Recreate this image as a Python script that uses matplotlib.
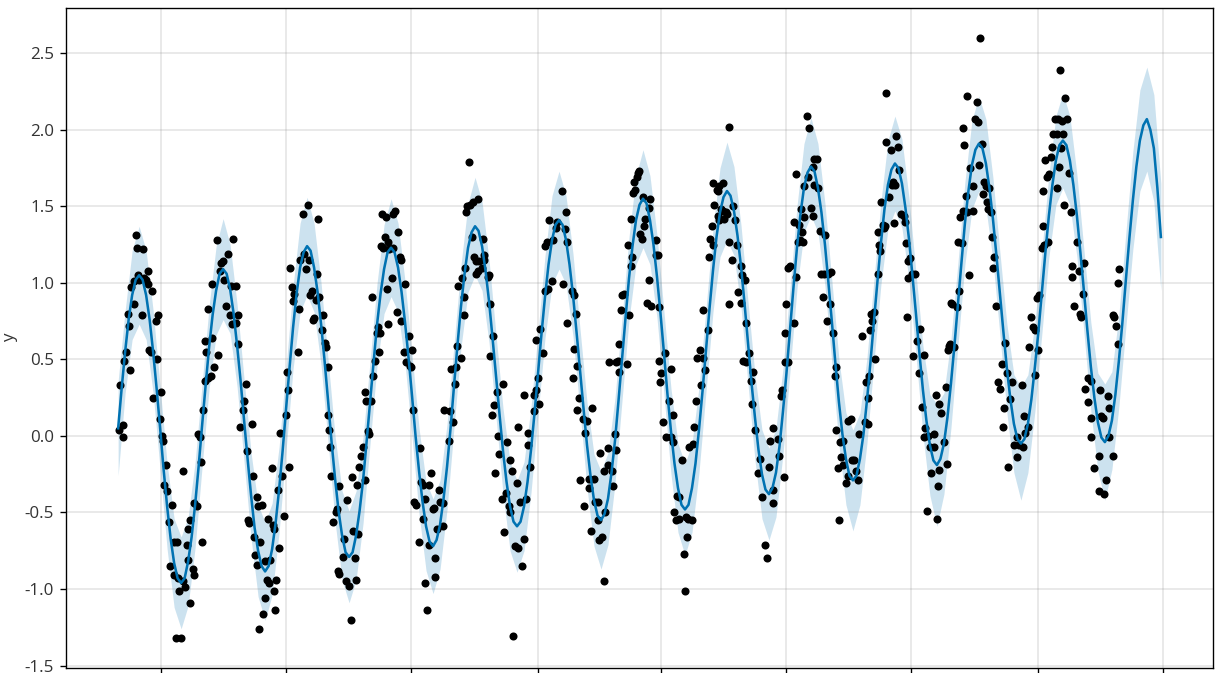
import numpy as np
import matplotlib
matplotlib.use("Agg")
import matplotlib.pyplot as plt

plt.rcParams["font.family"] = ["Open Sans", "DejaVu Sans"]
plt.rcParams["axes.unicode_minus"] = False

# forecast (yhat), one value every 3.5 days starting at day 0
yhat = [
    0.05, 0.31, 0.55, 0.76, 0.92, 1.02, 1.05,
    1.02, 0.92, 0.76, 0.55, 0.31, 0.05, -0.22, -0.46, -0.67, -0.83, -0.93, -0.96,
    -0.93, -0.82, -0.66, -0.45, -0.20, 0.07, 0.33, 0.58, 0.79, 0.95, 1.06, 1.09,
    1.06, 0.96, 0.80, 0.59, 0.36, 0.10, -0.15, -0.39, -0.60, -0.75, -0.85, -0.885,
    -0.85, -0.74, -0.57, -0.35, -0.10, 0.18, 0.45, 0.71, 0.93, 1.10, 1.20, 1.24,
    1.21, 1.10, 0.94, 0.73, 0.49, 0.23, -0.04, -0.28, -0.49, -0.65, -0.76, -0.79,
    -0.76, -0.65, -0.49, -0.29, -0.04, 0.22, 0.48, 0.73, 0.93, 1.09, 1.20, 1.23,
    1.20, 1.10, 0.94, 0.74, 0.51, 0.26, 0.00, -0.23, -0.43, -0.59, -0.69, -0.72,
    -0.68, -0.58, -0.41, -0.20, 0.05, 0.33, 0.60, 0.85, 1.06, 1.23, 1.33, 1.37,
    1.34, 1.24, 1.08, 0.88, 0.64, 0.39, 0.14, -0.10, -0.30, -0.46, -0.56, -0.59,
    -0.56, -0.46, -0.30, -0.09, 0.15, 0.41, 0.67, 0.91, 1.12, 1.28, 1.38, 1.41,
    1.38, 1.28, 1.12, 0.92, 0.68, 0.43, 0.18, -0.06, -0.26, -0.42, -0.52, -0.55,
    -0.51, -0.41, -0.24, -0.03, 0.23, 0.50, 0.77, 1.03, 1.24, 1.41, 1.51, 1.55,
    1.52, 1.41, 1.25, 1.04, 0.80, 0.54, 0.27, 0.03, -0.18, -0.34, -0.45, -0.48,
    -0.45, -0.34, -0.18, 0.04, 0.29, 0.56, 0.83, 1.08, 1.30, 1.46, 1.56, 1.60,
    1.57, 1.47, 1.31, 1.11, 0.87, 0.61, 0.35, 0.12, -0.09, -0.25, -0.35, -0.38,
    -0.34, -0.24, -0.07, 0.16, 0.41, 0.69, 0.97, 1.23, 1.45, 1.62, 1.72, 1.76,
    1.73, 1.62, 1.46, 1.25, 1.00, 0.74, 0.47, 0.22, 0.01, -0.15, -0.26, -0.29,
    -0.26, -0.15, 0.01, 0.23, 0.48, 0.75, 1.01, 1.26, 1.48, 1.64, 1.74, 1.78,
    1.75, 1.65, 1.49, 1.29, 1.05, 0.80, 0.54, 0.30, 0.10, -0.06, -0.16, -0.19,
    -0.15, -0.05, 0.12, 0.34, 0.59, 0.86, 1.13, 1.39, 1.60, 1.77, 1.87, 1.91,
    1.88, 1.78, 1.62, 1.42, 1.18, 0.93, 0.68, 0.44, 0.24, 0.08, -0.02, -0.05,
    -0.02, 0.08, 0.24, 0.45, 0.68, 0.94, 1.20, 1.44, 1.64, 1.80, 1.90, 1.93,
    1.90, 1.80, 1.64, 1.44, 1.20, 0.95, 0.69, 0.45, 0.25, 0.09, -0.01, -0.04,
    0.00, 0.10, 0.27, 0.49, 0.74, 1.02, 1.29, 1.54, 1.76, 1.93, 2.03, 2.07,
    2.00, 1.88, 1.62, 1.30,
]

# uncertainty interval: centre and half width, one value every 7 days
band_mid = [
    0.05, 0.55, 0.92, 1.05, 0.92, 0.55, 0.05, -0.46, -0.83, -0.96, -0.82, -0.45,
    0.07, 0.58, 0.95, 1.09, 0.96, 0.59, 0.10, -0.39, -0.75, -0.885, -0.74, -0.35,
    0.18, 0.71, 1.10, 1.24, 1.10, 0.73, 0.23, -0.28, -0.65, -0.79, -0.65, -0.29,
    0.22, 0.73, 1.09, 1.23, 1.10, 0.74, 0.26, -0.23, -0.59, -0.72, -0.58, -0.20,
    0.33, 0.85, 1.23, 1.37, 1.24, 0.88, 0.39, -0.10, -0.46, -0.59, -0.46, -0.09,
    0.41, 0.91, 1.28, 1.41, 1.28, 0.92, 0.43, -0.06, -0.42, -0.55, -0.41, -0.03,
    0.50, 1.03, 1.41, 1.55, 1.41, 1.04, 0.54, 0.03, -0.34, -0.48, -0.34, 0.04,
    0.56, 1.08, 1.46, 1.60, 1.47, 1.11, 0.61, 0.12, -0.25, -0.38, -0.24, 0.16,
    0.69, 1.23, 1.62, 1.76, 1.62, 1.25, 0.74, 0.22, -0.15, -0.29, -0.15, 0.23,
    0.75, 1.26, 1.64, 1.78, 1.65, 1.29, 0.80, 0.30, -0.06, -0.19, -0.05, 0.34,
    0.86, 1.39, 1.77, 1.91, 1.78, 1.42, 0.93, 0.44, 0.08, -0.05, 0.08, 0.45,
    0.94, 1.44, 1.80, 1.93, 1.80, 1.44, 0.95, 0.45, 0.09, -0.04, 0.10, 0.49,
    1.02, 1.54, 1.93, 2.07, 1.88, 1.30,
]
band_halfwidth = [
    0.31, 0.27, 0.29, 0.32, 0.29, 0.27, 0.27, 0.28, 0.29, 0.30, 0.29, 0.28,
    0.27, 0.27, 0.29, 0.33, 0.29, 0.27, 0.27, 0.28, 0.30, 0.32, 0.30, 0.28,
    0.27, 0.27, 0.29, 0.32, 0.29, 0.27, 0.27, 0.28, 0.29, 0.30, 0.29, 0.28,
    0.27, 0.27, 0.29, 0.32, 0.29, 0.27, 0.27, 0.28, 0.29, 0.31, 0.29, 0.28,
    0.27, 0.27, 0.29, 0.32, 0.29, 0.27, 0.27, 0.28, 0.29, 0.30, 0.29, 0.28,
    0.27, 0.27, 0.29, 0.32, 0.29, 0.27, 0.27, 0.28, 0.30, 0.32, 0.30, 0.28,
    0.27, 0.27, 0.29, 0.32, 0.29, 0.27, 0.27, 0.28, 0.29, 0.30, 0.29, 0.28,
    0.27, 0.27, 0.29, 0.32, 0.29, 0.27, 0.27, 0.28, 0.29, 0.30, 0.29, 0.28,
    0.27, 0.27, 0.29, 0.32, 0.29, 0.27, 0.27, 0.28, 0.30, 0.33, 0.30, 0.28,
    0.27, 0.27, 0.29, 0.31, 0.29, 0.27, 0.27, 0.29, 0.33, 0.40, 0.33, 0.29,
    0.27, 0.27, 0.29, 0.31, 0.29, 0.27, 0.27, 0.29, 0.32, 0.37, 0.32, 0.29,
    0.27, 0.27, 0.29, 0.31, 0.29, 0.27, 0.27, 0.29, 0.32, 0.38, 0.32, 0.30,
    0.31, 0.32, 0.33, 0.34, 0.35, 0.35,
]

# observed points (day, y)
obs = [
    (1, 0.04), (5, 0.07), (5, -0.01), (2, 0.33), (6, 0.49), (8, 0.55), (12, 0.43), (11, 0.72),
    (10, 0.80), (16, 0.86), (13, 0.97), (16, 1.01), (18, 1.31), (19, 1.23), (25, 1.22), (20, 1.05),
    (21, 1.02), (26, 1.03), (30, 1.08), (28, 1.02), (30, 0.99), (34, 0.95), (24, 0.79), (38, 0.75),
    (40, 0.79), (31, 0.56), (33, 0.55), (39, 0.50), (35, 0.25), (43, 0.29), (42, 0.11), (44, 0.00),
    (45, -0.03), (48, -0.19), (46, -0.32), (49, -0.36), (54, -0.45), (51, -0.56), (56, -0.69),
    (59, -0.69), (52, -0.85), (56, -0.91), (60, -0.93), (61, -1.01), (67, -0.99), (65, -0.95),
    (70, -0.81), (72, -1.09), (69, -0.71), (70, -0.61), (72, -0.55), (75, -0.87), (76, -0.91),
    (65, -0.23), (84, -0.69), (58, -1.32), (63, -1.32), (76, -0.44), (79, -0.46), (80, 0.01),
    (82, -0.01), (83, -0.17), (85, 0.17), (87, 0.36), (90, 0.38), (93, 0.39), (88, 0.55), (87, 0.62),
    (94, 0.64), (96, 0.45), (100, 0.53), (90, 0.83), (94, 0.99), (99, 1.28), (103, 1.13), (105, 1.14),
    (102, 1.08), (106, 1.02), (110, 1.19), (115, 1.29), (108, 0.85), (112, 0.79), (114, 0.73),
    (118, 0.74), (120, 0.79), (113, 0.98), (118, 0.98), (120, 0.60), (128, 0.34), (126, 0.23),
    (125, 0.17), (122, 0.06), (134, 0.08), (129, -0.10), (135, -0.26), (139, -0.40), (144, -0.45),
    (140, -0.46), (130, -0.55), (131, -0.57), (150, -0.54), (136, -0.66), (142, -0.69), (137, -0.78),
    (139, -0.84), (147, -0.82), (152, -0.81), (149, -0.94), (151, -0.96), (158, -0.94), (156, -1.01),
    (155, -0.58), (156, -0.61), (147, -1.06), (145, -1.16), (157, -1.14), (141, -1.26), (154, -0.21),
    (160, -0.35), (161, -0.73), (162, 0.02),
    (166, -0.52), (164, -0.26), (171, -0.20), (168, 0.14), (170, 0.30), (169, 0.42), (172, 1.10),
    (174, 0.97), (176, 0.93), (175, 0.88), (181, 0.83), (180, 0.55), (182, 1.15), (185, 1.45),
    (190, 1.51), (200, 1.42), (188, 1.09), (191, 1.15), (186, 1.19), (194, 0.95), (192, 0.92),
    (195, 0.76), (196, 0.77), (201, 0.91), (198, 0.89), (199, 1.06), (205, 0.79), (204, 0.69),
    (207, 0.61), (208, 0.58), (210, 0.45), (210, 0.14), (211, 0.04), (212, -0.07), (213, -0.26),
    (221, -0.33), (215, -0.56), (218, -0.50), (219, -0.48), (229, -0.42), (234, -0.27), (239, -0.32),
    (226, -0.67), (220, -0.88), (221, -0.90), (225, -0.79), (228, -0.95), (231, -0.98), (238, -0.94),
    (237, -0.80), (235, -0.62), (240, -0.64), (233, -1.20), (241, -0.20), (243, -0.13), (247, -0.29),
    (245, -0.07), (251, 0.01), (250, 0.03), (248, 0.23), (253, 0.23), (247, 0.29), (255, 0.39),
    (257, 0.49), (261, 0.55), (259, 0.67), (262, 0.67), (260, 0.71), (254, 0.91), (270, 0.73),
    (269, 0.96), (274, 1.03), (279, 0.81), (283, 0.75), (287, 0.99), (263, 1.24), (265, 1.23),
    (267, 1.30), (270, 1.27), (271, 1.22), (282, 1.17), (283, 1.15), (275, 1.23), (280, 1.33),
    (264, 1.45), (268, 1.43), (275, 1.45), (277, 1.47), (286, 0.55), (291, 0.65), (294, 0.56),
    (288, 0.48), (292, 0.46), (293, 0.45), (295, 0.17), (302, -0.08), (303, -0.30), (305, -0.32),
    (311, -0.32), (313, -0.24), (296, -0.43), (298, -0.45), (305, -0.54), (307, -0.41), (316, -0.47),
    (321, -0.35), (322, -0.43), (325, -0.44), (315, -0.48), (319, -0.61), (325, -0.59), (311, -0.71),
    (301, -0.69), (317, -0.80), (317, -0.92), (307, -0.96), (309, -1.14), (326, 0.17),
    (335, 0.09), (331, -0.03), (332, 0.16), (337, 0.34), (333, 0.44), (338, 0.45), (343, 0.51),
    (339, 0.59), (346, 0.79), (346, 0.91), (340, 0.98), (344, 1.03), (347, 1.10), (348, 1.46),
    (349, 1.50), (352, 1.51), (355, 1.53), (360, 1.55), (351, 1.79), (354, 1.30), (356, 1.17),
    (358, 1.14), (361, 1.14), (358, 1.06), (360, 1.08), (365, 1.29), (366, 1.18), (366, 1.15),
    (364, 1.10), (370, 1.04), (371, 1.05), (372, 0.86), (375, 0.65), (372, 0.52), (379, 0.29),
    (385, 0.34), (376, 0.20), (374, 0.14), (380, 0.00), (381, -0.12), (389, -0.04), (392, -0.16),
    (394, -0.23), (377, -0.24), (384, -0.41), (388, -0.37), (386, -0.63), (391, -0.46), (392, -0.50),
    (399, -0.31), (402, -0.43), (397, -0.72), (400, -0.73), (406, -0.67), (404, -0.85), (395, -1.31),
    (400, 0.06), (406, 0.27), (408, -0.41), (412, -0.20), (410, -0.06), (410, 0.02), (416, 0.27),
    (416, 0.16), (418, 0.30), (420, 0.38), (421, 0.21), (425, 0.54), (418, 0.63), (422, 0.70),
    (427, 0.95), (430, 0.96), (427, 1.24), (429, 1.27), (431, 1.41), (435, 1.28), (434, 1.01),
    (439, 1.40), (438, 1.36), (444, 1.60), (448, 1.46), (447, 1.35), (449, 1.27), (445, 0.99),
    (454, 0.95), (456, 0.92), (449, 0.74), (458, 0.80), (456, 0.57), (459, 0.46), (455, 0.38),
    (461, 0.25), (459, 0.17), (465, 0.11), (469, 0.10), (474, 0.18), (467, 0.02), (482, -0.11),
    (490, -0.08), (490, -0.19), (486, -0.23), (471, -0.28), (462, -0.29), (476, -0.28), (471, -0.34),
    (466, -0.46), (480, -0.43), (477, -0.43), (487, -0.50), (480, -0.55), (473, -0.62), (484, -0.66),
    (481, -0.68), (486, -0.95), (491, 0.48),
    (497, 0.01), (498, -0.09), (494, -0.23), (495, -0.33), (501, 0.60), (503, 0.82), (504, 0.92),
    (506, 0.93), (511, 0.79), (510, 1.25), (514, 1.17), (513, 1.11), (513, 1.42), (515, 1.59),
    (517, 1.61), (516, 1.66), (519, 1.69), (520, 1.72), (521, 1.73), (525, 1.56), (527, 1.42),
    (526, 1.37), (522, 1.32), (524, 1.29), (532, 1.55), (531, 1.49), (538, 1.28), (538, 1.18),
    (540, 1.18), (531, 1.02), (529, 0.87), (533, 0.85), (541, 0.84), (500, 0.49), (501, 0.42),
    (509, 0.47), (498, 0.48), (541, 0.49), (543, 0.41), (542, 0.35), (547, 0.54), (553, 0.44),
    (551, 0.23), (555, 0.14), (545, 0.09), (548, -0.01), (553, -0.01), (555, -0.04), (564, -0.16),
    (571, -0.07), (575, -0.05), (576, 0.06), (578, 0.23), (583, 0.33), (587, 0.43), (579, 0.51),
    (582, 0.56), (585, 0.51), (590, 0.69), (585, 0.82), (592, 1.29), (595, 1.25), (594, 1.37),
    (591, 1.17), (600, 1.44), (596, 1.51), (600, 1.60), (601, 1.63), (595, 1.65), (605, 1.65),
    (599, 1.61), (603, 1.48), (605, 1.47), (608, 1.46), (609, 1.45), (606, 1.42), (601, 1.41),
    (615, 1.50), (617, 1.41), (611, 1.27), (619, 1.25), (614, 1.15), (611, 0.86), (623, 1.11),
    (624, 1.05), (627, 1.02), (620, 0.94), (623, 0.87), (628, 0.74), (625, 0.49), (628, 0.48),
    (631, 0.54), (635, 0.42), (633, 0.36), (634, 0.21), (637, 0.04), (642, -0.15), (640, -0.24),
    (644, -0.40), (651, -0.20), (652, -0.03), (655, 0.05), (655, -0.35), (655, -0.44), (647, -0.71),
    (649, -0.80), (559, -0.39), (561, -0.40), (556, -0.50), (558, -0.55), (561, -0.54), (568, -0.53),
    (570, -0.54), (574, -0.55), (569, -0.66), (566, -0.77), (567, -1.01), (611, 2.02),
    (660, -0.02), (661, -0.13), (666, -0.27), (663, 0.26), (664, 0.30), (667, 0.48), (670, 0.48),
    (667, 0.67), (668, 0.86), (670, 1.10), (672, 1.11), (678, 1.04), (676, 0.74), (678, 1.71),
    (676, 1.40), (681, 1.38), (683, 1.48), (682, 1.28), (685, 1.27), (680, 1.27), (686, 1.43),
    (684, 1.33), (689, 2.09), (691, 2.01), (690, 1.69), (686, 1.63), (696, 1.81), (699, 1.81),
    (695, 1.76), (696, 1.64), (700, 1.62), (693, 1.49), (695, 1.44), (702, 1.34), (707, 1.31),
    (703, 1.06), (706, 1.06), (710, 1.06), (713, 1.07), (705, 0.91), (712, 0.86), (709, 0.75),
    (715, 0.67), (718, 0.45), (717, 0.39), (718, 0.04), (722, -0.04), (725, -0.03), (723, -0.14),
    (720, -0.21), (725, -0.19), (728, -0.31), (730, -0.26), (734, -0.16), (736, -0.16), (738, -0.23),
    (740, -0.29), (733, 0.11), (730, 0.10), (741, 0.01), (721, -0.55), (744, 0.65), (748, 0.35),
    (750, 0.25), (747, 0.09), (750, 0.08), (752, 0.69), (754, 0.75), (756, 0.81), (753, 0.80),
    (757, 0.50), (751, 0.39), (760, 1.06), (762, 1.21), (761, 1.25), (760, 1.33), (766, 1.36),
    (765, 1.38), (763, 1.53), (767, 1.37), (771, 1.56), (774, 1.64), (775, 1.66), (777, 1.64),
    (768, 1.92), (773, 1.87), (778, 1.96), (780, 1.89), (781, 1.74), (776, 1.39), (783, 1.45),
    (787, 1.40), (786, 1.44), (788, 1.26), (790, 1.14), (792, 1.16), (794, 1.06), (790, 1.03),
    (797, 1.06), (789, 0.78), (795, 0.52), (799, 0.62), (802, 0.70), (806, 0.53), (801, 0.41),
    (804, 0.19), (807, 0.05), (810, 0.00), (816, 0.01), (812, -0.07), (816, -0.07), (806, -0.01),
    (813, -0.24), (820, -0.33), (809, -0.49), (819, -0.54), (818, 0.27), (821, 0.21), (768, 2.24),
    (823, 0.15), (826, -0.04), (821, -0.22), (829, -0.18), (828, 0.32), (830, 0.56), (832, 0.60),
    (831, 0.59), (836, 0.58), (833, 0.87), (834, 0.86), (839, 0.84), (841, 0.95), (840, 1.27),
    (844, 1.26), (842, 1.43), (845, 1.47), (849, 1.46), (851, 1.05), (855, 1.47), (848, 1.57),
    (849, 2.22), (845, 2.01), (846, 1.90), (859, 2.18), (857, 2.07), (860, 2.05), (861, 1.77),
    (852, 1.75), (855, 1.63), (864, 1.91), (866, 1.66), (865, 1.58), (868, 1.63), (871, 1.62),
    (869, 1.53), (870, 1.48), (873, 1.46), (874, 1.30), (876, 1.17), (875, 1.10), (878, 0.85),
    (887, 0.61), (884, 0.47), (889, 0.41), (880, 0.35), (882, 0.31), (894, 0.35), (904, 0.33),
    (892, 0.24), (886, 0.18), (885, 0.06), (906, 0.13), (910, 0.06), (907, 0.02), (899, -0.01),
    (896, -0.06), (901, -0.06), (905, -0.07), (899, -0.14), (890, -0.20), (911, 0.58), (915, 0.71),
    (913, 0.78), (917, 0.69), (920, 0.56), (917, 0.40), (919, 0.90), (921, 0.92), (926, 1.25),
    (924, 1.23), (925, 1.37), (930, 1.27), (925, 1.60), (929, 1.69), (931, 1.71), (933, 1.82),
    (927, 1.80), (934, 1.89), (935, 1.97), (937, 2.07), (940, 2.07), (944, 2.06), (949, 2.07),
    (945, 1.97), (939, 1.97), (947, 2.21), (942, 2.39), (862, 2.60), (943, 1.88), (941, 1.76),
    (939, 1.62), (951, 1.72), (953, 1.46), (946, 1.51), (959, 1.27), (954, 1.11), (961, 1.08),
    (966, 1.13), (954, 1.04), (965, 0.93), (956, 0.85), (962, 0.80), (963, 0.78), (970, 0.38),
    (973, 0.36), (967, 0.31), (982, 0.30), (970, 0.22), (990, 0.26), (973, 0.12), (983, 0.13),
    (985, 0.12), (991, 0.18), (973, -0.01), (991, -0.01), (981, -0.13), (976, -0.21), (988, -0.29),
    (981, -0.36), (986, -0.38), (995, -0.13), (995, 0.79), (996, 0.78), (1000, 0.60), (998, 0.72),
    (1001, 1.09), (1000, 1.00),
]

tick_days = [43, 168, 293, 420, 543, 668, 793, 920, 1045]
y_ticks = [-1.5, -1.0, -0.5, 0.0, 0.5, 1.0, 1.5, 2.0, 2.5]

ds_line = np.arange(len(yhat)) * 3.5
ds_band = np.arange(len(band_mid)) * 7
mid = np.array(band_mid)
half = np.array(band_halfwidth)
obs_ds = [p[0] for p in obs]
obs_y = [p[1] for p in obs]

fig = plt.figure(figsize=(1221 / 122, 673 / 122), dpi=122)
ax = fig.add_axes([66 / 1221, 5 / 673, (1213 - 66) / 1221, (668 - 8) / 673])

ax.plot(obs_ds, obs_y, "k.", markersize=7.5)
ax.plot(ds_line, yhat, ls="-", c="#0072B2", lw=1.5)
ax.fill_between(ds_band, mid - half, mid + half, color="#0072B2", alpha=0.2, lw=0)

ax.grid(True, which="major", c="gray", ls="-", lw=1, alpha=0.2)
ax.set_xticks(tick_days)
ax.set_yticks(y_ticks)
ax.tick_params(axis="x", labelbottom=False)
ax.tick_params(axis="y", labelsize=10, labelcolor="#333333")
ax.set_ylabel("y", fontsize=10, color="#333333")

fig.savefig("out.png", dpi=122)
